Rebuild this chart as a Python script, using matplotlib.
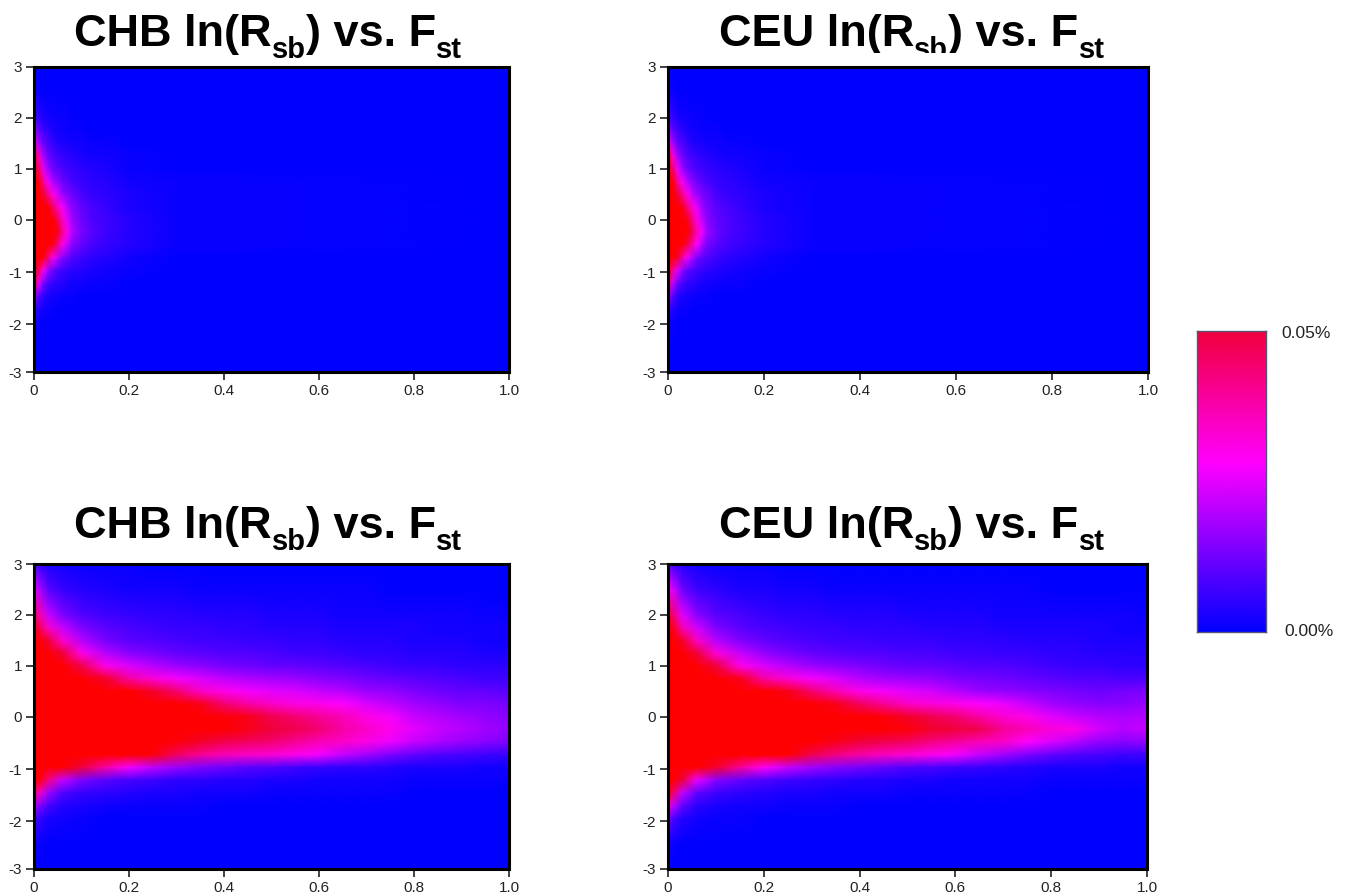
import numpy as np
import matplotlib
matplotlib.use('Agg')
import matplotlib.pyplot as plt
from matplotlib.colors import LinearSegmentedColormap, Normalize
from matplotlib.transforms import Bbox

plt.rcParams['font.family'] = ['Liberation Sans', 'DejaVu Sans']
plt.rcParams['axes.unicode_minus'] = False

W, H = 1345, 894

# density, in thousandths of a percent (50 = 0.05%)
ln_r = [3, 2.5, 2, 1.75, 1.5, 1.25, 1, .75, .5, .25, 0, -.25, -.5, -.75, -1, -1.25, -1.5, -1.75, -2, -2.5, -3]
fst_top = [0, .01, .02, .03, .04, .05, .06, .07, .08, .1, .12, .15, .2, .3, 1]
fst_bottom = [0, .01, .03, .06, .1, .15, .2, .25, .3, .35, .4, .45, .5, .55, .6, .65, .7, .75, .8, .85, .9, .95, 1]

chb_top = [
    [0, 0, 0, 0, 0, 0, 0, 0, 0, 0, 0, 0, 0, 0, 0],
    [2, 1, 0, 0, 0, 0, 0, 0, 0, 0, 0, 0, 0, 0, 0],
    [8, 5, 3, 2, 2, 1, 1, 1, 0, 0, 0, 0, 0, 0, 0],
    [18, 11, 7, 5, 3, 2, 2, 1, 1, 1, 0, 0, 0, 0, 0],
    [32, 18, 11, 8, 6, 4, 3, 3, 2, 2, 1, 1, 0, 0, 0],
    [55, 34, 18, 12, 9, 7, 6, 5, 4, 3, 2, 2, 1, 0, 0],
    [60, 44, 25, 17, 12, 10, 8, 7, 6, 5, 4, 3, 1, 0, 0],
    [60, 56, 38, 26, 19, 15, 12, 10, 8, 6, 5, 4, 2, 1, 0],
    [60, 60, 50, 40, 30, 23, 17, 14, 12, 8, 6, 5, 3, 1, 0],
    [60, 60, 60, 56, 44, 35, 27, 20, 15, 11, 8, 6, 3, 1, 0],
    [60, 60, 60, 60, 58, 46, 34, 25, 18, 12, 9, 7, 4, 1, 0],
    [60, 60, 60, 60, 60, 54, 40, 30, 20, 13, 10, 7, 4, 1, 0],
    [60, 60, 60, 60, 54, 42, 30, 22, 15, 11, 8, 6, 4, 1, 0],
    [60, 60, 56, 42, 30, 21, 15, 12, 9, 7, 5, 4, 2, 0, 0],
    [60, 46, 28, 17, 12, 9, 7, 6, 5, 4, 3, 2, 1, 0, 0],
    [52, 26, 13, 8, 6, 5, 4, 3, 2, 2, 1, 1, 0, 0, 0],
    [20, 10, 5, 3, 2, 2, 1, 1, 1, 0, 0, 0, 0, 0, 0],
    [7, 4, 2, 1, 1, 0, 0, 0, 0, 0, 0, 0, 0, 0, 0],
    [2, 1, 0, 0, 0, 0, 0, 0, 0, 0, 0, 0, 0, 0, 0],
    [0, 0, 0, 0, 0, 0, 0, 0, 0, 0, 0, 0, 0, 0, 0],
    [0, 0, 0, 0, 0, 0, 0, 0, 0, 0, 0, 0, 0, 0, 0],
]

ceu_top = [
    [0, 0, 0, 0, 0, 0, 0, 0, 0, 0, 0, 0, 0, 0, 0],
    [2, 1, 0, 0, 0, 0, 0, 0, 0, 0, 0, 0, 0, 0, 0],
    [9, 6, 3, 2, 2, 1, 1, 1, 0, 0, 0, 0, 0, 0, 0],
    [18, 11, 7, 5, 3, 2, 2, 1, 1, 1, 0, 0, 0, 0, 0],
    [32, 18, 11, 8, 6, 4, 3, 3, 2, 2, 1, 1, 0, 0, 0],
    [54, 32, 18, 12, 9, 7, 6, 5, 4, 3, 2, 2, 1, 0, 0],
    [60, 44, 26, 17, 12, 10, 8, 7, 6, 5, 4, 3, 1, 0, 0],
    [60, 56, 38, 27, 20, 15, 12, 10, 8, 6, 5, 4, 2, 1, 0],
    [60, 60, 50, 40, 30, 22, 17, 14, 12, 8, 6, 5, 3, 1, 0],
    [60, 60, 60, 54, 42, 33, 25, 18, 14, 10, 8, 6, 3, 1, 0],
    [60, 60, 60, 60, 54, 42, 31, 22, 16, 11, 9, 7, 4, 1, 0],
    [60, 60, 60, 60, 58, 48, 36, 27, 18, 12, 9, 7, 4, 1, 0],
    [60, 60, 60, 58, 48, 38, 28, 20, 14, 10, 8, 6, 4, 1, 0],
    [60, 60, 52, 38, 27, 20, 14, 11, 9, 7, 5, 4, 2, 0, 0],
    [60, 40, 25, 16, 11, 9, 7, 6, 5, 4, 3, 2, 1, 0, 0],
    [44, 22, 12, 8, 6, 5, 4, 3, 2, 2, 1, 1, 0, 0, 0],
    [20, 10, 5, 3, 2, 2, 1, 1, 1, 0, 0, 0, 0, 0, 0],
    [8, 4, 2, 1, 1, 0, 0, 0, 0, 0, 0, 0, 0, 0, 0],
    [2, 1, 0, 0, 0, 0, 0, 0, 0, 0, 0, 0, 0, 0, 0],
    [0, 0, 0, 0, 0, 0, 0, 0, 0, 0, 0, 0, 0, 0, 0],
    [0, 0, 0, 0, 0, 0, 0, 0, 0, 0, 0, 0, 0, 0, 0],
]

chb_bottom = [
    [10, 6, 3, 2, 1, 1, 1, 0, 0, 0, 0, 0, 0, 0, 0, 0, 0, 0, 0, 0, 0, 0, 0],
    [26, 20, 10, 6, 4, 3, 2, 2, 2, 1, 1, 1, 1, 1, 1, 1, 1, 0, 0, 0, 0, 0, 0],
    [46, 38, 22, 14, 9, 7, 6, 5, 5, 4, 4, 4, 3, 3, 3, 2, 2, 2, 2, 2, 2, 1, 1],
    [55, 48, 34, 22, 14, 10, 8, 7, 6, 6, 5, 5, 4, 4, 4, 3, 3, 3, 3, 2, 2, 2, 2],
    [60, 60, 50, 33, 20, 13, 10, 9, 8, 7, 7, 6, 6, 5, 5, 4, 4, 4, 3, 3, 3, 2, 2],
    [60, 60, 60, 50, 30, 20, 15, 13, 11, 10, 9, 9, 8, 7, 7, 6, 5, 5, 4, 4, 4, 3, 3],
    [60, 60, 60, 60, 48, 30, 24, 20, 17, 15, 13, 12, 11, 11, 10, 9, 8, 7, 6, 6, 5, 5, 5],
    [60, 60, 60, 60, 60, 52, 38, 32, 27, 24, 21, 19, 18, 17, 15, 14, 12, 11, 10, 9, 8, 7, 7],
    [60, 60, 60, 60, 60, 60, 60, 52, 44, 34, 30, 27, 25, 24, 22, 20, 17, 16, 14, 12, 11, 11, 10],
    [60, 60, 60, 60, 60, 60, 60, 60, 60, 54, 44, 38, 34, 31, 30, 28, 24, 21, 18, 16, 14, 14, 13],
    [60, 60, 60, 60, 60, 60, 60, 60, 60, 60, 56, 54, 48, 44, 40, 36, 31, 27, 22, 20, 18, 16, 15],
    [60, 60, 60, 60, 60, 60, 60, 60, 60, 60, 58, 54, 50, 48, 44, 38, 34, 30, 25, 22, 20, 18, 16],
    [60, 60, 60, 60, 60, 60, 60, 60, 56, 52, 48, 46, 44, 40, 36, 34, 31, 26, 22, 19, 17, 15, 14],
    [60, 60, 60, 60, 60, 60, 60, 56, 46, 40, 36, 34, 33, 30, 27, 22, 18, 14, 11, 9, 8, 7, 6],
    [60, 60, 60, 60, 50, 38, 27, 21, 17, 14, 12, 10, 9, 7, 6, 5, 5, 4, 3, 3, 3, 2, 2],
    [60, 60, 42, 22, 14, 10, 8, 7, 5, 5, 4, 4, 3, 3, 2, 2, 2, 2, 1, 1, 1, 1, 1],
    [45, 35, 18, 9, 6, 5, 4, 3, 3, 2, 2, 2, 1, 1, 1, 1, 1, 1, 0, 0, 0, 0, 0],
    [22, 15, 8, 4, 3, 2, 1, 1, 1, 1, 0, 0, 0, 0, 0, 0, 0, 0, 0, 0, 0, 0, 0],
    [10, 6, 3, 2, 1, 0, 0, 0, 0, 0, 0, 0, 0, 0, 0, 0, 0, 0, 0, 0, 0, 0, 0],
    [2, 1, 0, 0, 0, 0, 0, 0, 0, 0, 0, 0, 0, 0, 0, 0, 0, 0, 0, 0, 0, 0, 0],
    [0, 0, 0, 0, 0, 0, 0, 0, 0, 0, 0, 0, 0, 0, 0, 0, 0, 0, 0, 0, 0, 0, 0],
]

ceu_bottom = [
    [12, 7, 4, 2, 1, 1, 1, 0, 0, 0, 0, 0, 0, 0, 0, 0, 0, 0, 0, 0, 0, 0, 0],
    [30, 24, 12, 7, 5, 3, 3, 2, 2, 1, 1, 1, 1, 1, 1, 1, 1, 1, 0, 0, 0, 0, 0],
    [52, 44, 25, 15, 10, 8, 6, 5, 5, 4, 4, 4, 3, 3, 3, 3, 2, 2, 2, 2, 2, 2, 1],
    [60, 54, 36, 23, 14, 10, 8, 7, 6, 6, 5, 5, 5, 4, 4, 4, 3, 3, 3, 3, 3, 2, 2],
    [60, 60, 52, 34, 20, 14, 11, 9, 8, 7, 7, 6, 6, 6, 5, 5, 5, 4, 4, 4, 3, 3, 3],
    [60, 60, 60, 50, 32, 22, 16, 13, 11, 10, 9, 9, 8, 8, 7, 7, 6, 6, 5, 5, 4, 4, 4],
    [60, 60, 60, 60, 50, 30, 24, 20, 17, 15, 14, 12, 11, 11, 10, 9, 9, 8, 7, 6, 6, 5, 5],
    [60, 60, 60, 60, 60, 54, 38, 32, 27, 24, 20, 18, 17, 16, 14, 13, 12, 11, 10, 9, 9, 8, 8],
    [60, 60, 60, 60, 60, 60, 60, 54, 44, 36, 30, 27, 25, 23, 20, 17, 16, 15, 14, 13, 12, 13, 14],
    [60, 60, 60, 60, 60, 60, 60, 60, 60, 54, 46, 40, 34, 32, 30, 28, 26, 22, 18, 16, 15, 15, 17],
    [60, 60, 60, 60, 60, 60, 60, 60, 60, 60, 58, 56, 52, 48, 44, 38, 33, 30, 25, 22, 20, 19, 20],
    [60, 60, 60, 60, 60, 60, 60, 60, 60, 60, 60, 58, 56, 52, 50, 48, 40, 36, 32, 30, 23, 20, 22],
    [60, 60, 60, 60, 60, 60, 60, 60, 58, 54, 50, 48, 46, 42, 39, 36, 34, 28, 24, 20, 16, 15, 16],
    [60, 60, 60, 60, 60, 60, 60, 58, 48, 42, 38, 35, 33, 30, 27, 22, 18, 14, 11, 9, 8, 7, 7],
    [60, 60, 60, 60, 52, 40, 29, 22, 18, 15, 13, 11, 9, 8, 7, 6, 5, 4, 3, 3, 3, 2, 2],
    [60, 60, 50, 26, 15, 11, 9, 7, 6, 5, 4, 4, 3, 3, 2, 2, 2, 2, 1, 1, 1, 1, 1],
    [58, 46, 22, 11, 7, 5, 4, 3, 3, 2, 2, 2, 1, 1, 1, 1, 1, 1, 0, 0, 0, 0, 0],
    [36, 22, 11, 5, 3, 2, 2, 1, 1, 1, 0, 0, 0, 0, 0, 0, 0, 0, 0, 0, 0, 0, 0],
    [16, 9, 4, 2, 1, 1, 0, 0, 0, 0, 0, 0, 0, 0, 0, 0, 0, 0, 0, 0, 0, 0, 0],
    [3, 1, 0, 0, 0, 0, 0, 0, 0, 0, 0, 0, 0, 0, 0, 0, 0, 0, 0, 0, 0, 0, 0],
    [0, 0, 0, 0, 0, 0, 0, 0, 0, 0, 0, 0, 0, 0, 0, 0, 0, 0, 0, 0, 0, 0, 0],
]

x_ticks = [0, .2, .4, .6, .8, 1.0]
x_labels = ['0', '0.2', '0.4', '0.6', '0.8', '1.0']
y_ticks = [-3, -2.06, -1.04, 0, 1, 2, 3]
y_labels = ['-3', '-2', '-1', '0', '1', '2', '3']
bar_scale = [50, 40, 28, 20, 10, 0]
bar_labels = ['0.05%', '0.00%']
chb_parts = ['CHB ln(R', 'sb', ') vs. F', 'st']
ceu_parts = ['CEU ln(R', 'sb', ') vs. F', 'st']

cmap = LinearSegmentedColormap.from_list('density', [
    (0, '#0000ff'), (28 / 60, '#ff00ff'), (50 / 60, '#f0003c'), (57 / 60, '#ff0000'), (1, '#ff0000')])
norm = Normalize(0, 60)


def pixel_axes(fig, left, top, right, bottom):
    return fig.add_axes([left / W, 1 - bottom / H, (right - left) / W, (bottom - top) / H])


def draw_title(fig, parts, x, baseline, clip_y=None):
    # subscripts sit lower than mathtext would put them, so each run is its own text
    renderer = fig.canvas.get_renderer()
    for i, part in enumerate(parts):
        sub = i % 2 == 1
        y = baseline + 12 if sub else baseline
        t = fig.text(x / W, 1 - y / H, part, fontsize=21 if sub else 32.5,
                     fontweight='bold', va='baseline', color='black')
        x += t.get_window_extent(renderer).width
        if clip_y is not None and i < 3:
            t.set_clip_box(Bbox([[0, H - clip_y], [W, H]]))
            t.set_clip_on(True)


def draw_panel(fig, box, fst, grid, parts, title_x, title_y, clip_y=None):
    ax = pixel_axes(fig, *box)
    ax.pcolormesh(fst, ln_r, np.array(grid, dtype=float), cmap=cmap, norm=norm, shading='gouraud')
    ax.set_xlim(0, 1)
    ax.set_ylim(-3, 3)
    ax.set_xticks(x_ticks, x_labels)
    ax.set_yticks(y_ticks, y_labels)
    ax.tick_params(length=5.5, width=1.2, labelsize=11, pad=3, colors='#222222')
    for s in ax.spines.values():
        s.set_linewidth(2.2)
        s.set_color('black')
    draw_title(fig, parts, title_x, title_y, clip_y)
    return ax


fig = plt.figure(figsize=(W / 100, H / 100), dpi=100)

draw_panel(fig, (34, 67, 509, 372), fst_top, chb_top, chb_parts, 74, 46)
draw_panel(fig, (668, 67, 1148, 372), fst_top, ceu_top, ceu_parts, 719, 46, clip_y=53)
draw_panel(fig, (34, 564, 509, 869), fst_bottom, chb_bottom, chb_parts, 74, 538)
draw_panel(fig, (668, 564, 1147, 869), fst_bottom, ceu_bottom, ceu_parts, 719, 538)

# colour scale
cax = pixel_axes(fig, 1197, 331, 1266, 632)
cax.pcolormesh([0, 1], bar_scale, [[v, v] for v in bar_scale], cmap=cmap, norm=norm, shading='gouraud')
cax.set_xticks([])
cax.set_yticks([])
for s in cax.spines.values():
    s.set_linewidth(1)
    s.set_color('#555577')
fig.text(1281 / W, 1 - 334 / H, bar_labels[0], fontsize=12.5, color='#222222', va='center')
fig.text(1284 / W, 1 - 632 / H, bar_labels[1], fontsize=12.5, color='#222222', va='center')

fig.savefig('out.png', dpi=100)
